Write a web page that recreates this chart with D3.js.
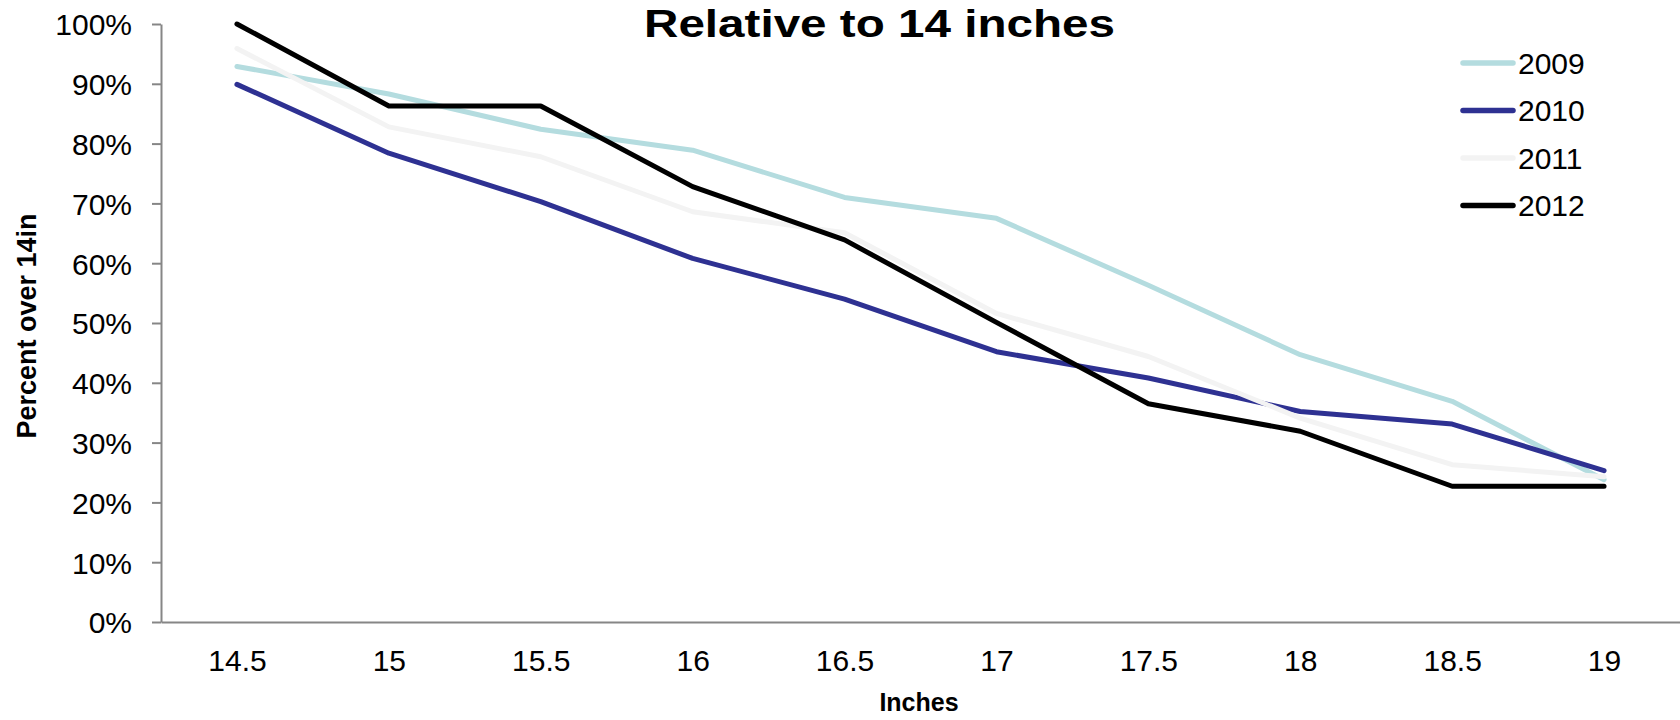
<!DOCTYPE html>
<html>
<head>
<meta charset="utf-8">
<script src="https://cdn.jsdelivr.net/npm/d3@7"></script>
<style>
  body { margin: 0; background: #fff; }
  svg { display: block; font-family: "Liberation Sans", Arial, sans-serif; }
</style>
</head>
<body>
<div id="chart-area"></div>
<script>
const INCHES = ['14.5', '15', '15.5', '16', '16.5', '17', '17.5', '18', '18.5', '19'];
const YEARS = ['2009', '2010', '2011', '2012'];
const VALUES_2009 = [0.929, 0.883, 0.824, 0.789, 0.710, 0.675, 0.563, 0.447, 0.369, 0.238];
const VALUES_2010 = [0.899, 0.784, 0.703, 0.608, 0.540, 0.452, 0.408, 0.352, 0.331, 0.253];
const VALUES_2011 = [0.959, 0.828, 0.778, 0.686, 0.651, 0.516, 0.444, 0.341, 0.263, 0.243];
const VALUES_2012 = [1.0, 0.863, 0.863, 0.728, 0.639, 0.501, 0.365, 0.319, 0.227, 0.227];
const Y_TICKS = [0, 0.1, 0.2, 0.3, 0.4, 0.5, 0.6, 0.7, 0.8, 0.9, 1.0];

const COLORS = ['#b4dcdf', '#2e3192', '#f3f3f3', '#000000'];
const SERIES = [VALUES_2009, VALUES_2010, VALUES_2011, VALUES_2012].map((values, i) => ({
  name: YEARS[i],
  color: COLORS[i],
  data: values.map((v, j) => ({ inch: INCHES[j], value: v })),
}));

const W = 1680;
const H = 720;
const margin = { top: 24, right: 0, bottom: 98, left: 161 };
const width = W - margin.left - margin.right;
const height = H - margin.top - margin.bottom;

const x = d3.scalePoint()
  .domain(INCHES)
  .range([0, width])
  .padding(0.5);

const y = d3.scaleLinear()
  .domain([0, 1])
  .range([height, 0]);

const svg = d3.select('#chart-area')
  .append('svg')
  .attr('width', W)
  .attr('height', H);

const chart = svg.append('g')
  .attr('transform', `translate(${margin.left},${margin.top})`);

// y axis
const yAxis = chart.append('g')
  .attr('class', 'y-axis')
  .call(d3.axisLeft(y)
    .tickValues(Y_TICKS)
    .tickFormat(d3.format('.0%'))
    .tickSize(9)
    .tickSizeOuter(0)
    .tickPadding(20));

yAxis.selectAll('line, path')
  .attr('stroke', '#868686')
  .attr('stroke-width', 2);
yAxis.selectAll('text')
  .attr('font-size', 30)
  .attr('fill', '#000')
  .attr('dy', '0.36em');

// x axis, line only with labels underneath
const xAxis = chart.append('g')
  .attr('class', 'x-axis')
  .attr('transform', `translate(0,${height})`)
  .call(d3.axisBottom(x)
    .tickSize(0)
    .tickSizeOuter(0)
    .tickPadding(28));

xAxis.select('path')
  .attr('stroke', '#868686')
  .attr('stroke-width', 2);
xAxis.selectAll('text')
  .attr('font-size', 30)
  .attr('fill', '#000');

// lines
const line = d3.line()
  .x((d) => x(d.inch))
  .y((d) => y(d.value));

chart.selectAll('.line')
  .data(SERIES)
  .enter()
  .append('path')
  .attr('class', 'line')
  .attr('fill', 'none')
  .attr('stroke', (d) => d.color)
  .attr('stroke-width', 5)
  .attr('stroke-linejoin', 'round')
  .attr('stroke-linecap', 'round')
  .attr('d', (d) => line(d.data));

// titles
svg.append('text')
  .attr('x', 644)
  .attr('y', 37)
  .attr('font-size', 39)
  .attr('font-weight', 'bold')
  .attr('textLength', 471)
  .attr('lengthAdjust', 'spacingAndGlyphs')
  .text('Relative to 14 inches');

svg.append('text')
  .attr('x', 919)
  .attr('y', 711)
  .attr('text-anchor', 'middle')
  .attr('font-size', 25)
  .attr('font-weight', 'bold')
  .text('Inches');

svg.append('text')
  .attr('transform', 'translate(36,326) rotate(-90)')
  .attr('text-anchor', 'middle')
  .attr('font-size', 27)
  .attr('font-weight', 'bold')
  .text('Percent over 14in');

// legend
const legend = svg.append('g')
  .attr('transform', 'translate(1460,63)');

const item = legend.selectAll('.item')
  .data(SERIES)
  .enter()
  .append('g')
  .attr('class', 'item')
  .attr('transform', (d, i) => `translate(0,${i * 47.5})`);

item.append('line')
  .attr('x1', 3)
  .attr('x2', 53)
  .attr('stroke', (d) => d.color)
  .attr('stroke-width', 5.5)
  .attr('stroke-linecap', 'round');

item.append('text')
  .attr('x', 58)
  .attr('dy', '0.36em')
  .attr('font-size', 30)
  .text((d) => d.name);
</script>
</body>
</html>
